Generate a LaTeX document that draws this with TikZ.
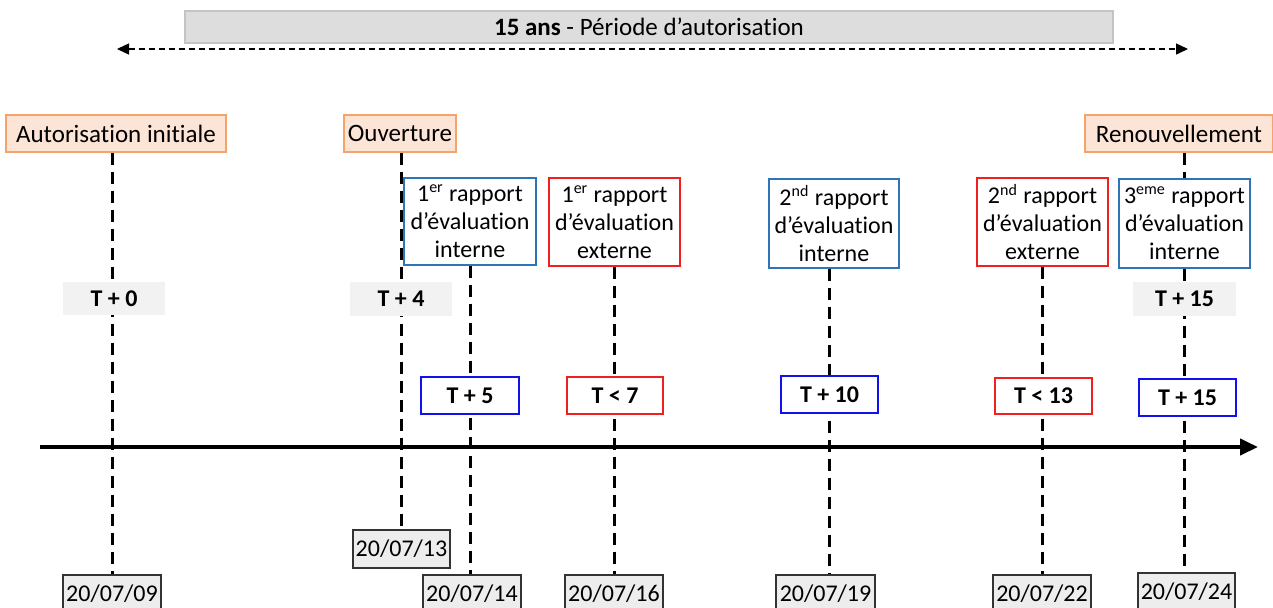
\documentclass[tikz,border=0pt]{standalone}
\usepackage{fontspec}
\setmainfont{Carlito}[Ligatures=NoCommon]
\usetikzlibrary{arrows.meta}
\definecolor{bannerfill}{HTML}{DDDDDD}
\definecolor{bannerdraw}{HTML}{C4C4C4}
\definecolor{orfill}{HTML}{FCE4D6}
\definecolor{ordraw}{HTML}{F4A46A}
\definecolor{intdraw}{HTML}{2E75B6}
\definecolor{extdraw}{HTML}{F02020}
\definecolor{tblue}{HTML}{1010F0}
\definecolor{tgray}{HTML}{F2F2F2}
\definecolor{datefill}{HTML}{EDEDED}
\definecolor{datedraw}{HTML}{333333}
\begin{document}
\begin{tikzpicture}[x=0.5pt,y=-0.5pt,
  every node/.style={inner sep=0pt, font=\fontsize{12}{14}\selectfont, align=center},
  banner/.style={fill=bannerfill, draw=bannerdraw, line width=0.6pt, font=\fontsize{12.5}{14}\selectfont},
  milestone/.style={fill=orfill, draw=ordraw, line width=0.7pt, font=\fontsize{12.5}{14}\selectfont},
  rint/.style={fill=white, draw=intdraw, line width=0.7pt},
  rext/.style={fill=white, draw=extdraw, line width=0.7pt},
  tlabel/.style={fill=tgray, font=\fontsize{12}{14}\selectfont\bfseries},
  tint/.style={fill=white, draw=tblue, line width=0.7pt, font=\fontsize{12}{14}\selectfont\bfseries},
  dateb/.style={fill=datefill, draw=datedraw, line width=0.6pt},
  vline/.style={line width=1.5pt, dash pattern=on 6pt off 3.5pt},
  period/.style={line width=0.7pt, dash pattern=on 3pt off 2pt, {Triangle[length=6pt,width=5.5pt]}-{Triangle[length=6pt,width=5.5pt]}},
  axis/.style={line width=2pt, -{Triangle[length=9pt,width=8pt]}}
]
\useasboundingbox (0,0) rectangle (1273,607);
\clip (0,0) rectangle (1273,607);

% banner and period arrow
\node[banner, minimum width=464pt, minimum height=16pt] (banner) at (649,27) {\textbf{15 ans} - Période d’autorisation};
\coordinate (pL) at (117,49);
\coordinate (pR) at (1188,49);
\draw[period] (pL) -- (pR);

% milestones
\node[milestone, minimum width=110pt, minimum height=18.5pt] (ai) at (116,133.5) {Autorisation initiale};
\node[milestone, minimum width=56pt, minimum height=18.5pt] (ouv) at (400,133.5) {Ouverture};
\node[milestone, minimum width=94pt, minimum height=18.5pt] (ren) at (1179,133.5) {Renouvellement};

% report boxes
\node[rint, minimum width=66pt, minimum height=43.5pt] (r1i) at (470,221.5) {1\textsuperscript{er} rapport\\d’évaluation\\interne};
\node[rext, minimum width=65.5pt, minimum height=44pt] (r1e) at (614.5,222) {1\textsuperscript{er} rapport\\d’évaluation\\externe};
\node[rint, minimum width=65pt, minimum height=44.5pt] (r2i) at (834,223.5) {2\textsuperscript{nd} rapport\\d’évaluation\\interne};
\node[rext, minimum width=65.5pt, minimum height=44pt] (r2e) at (1042.5,222) {2\textsuperscript{nd} rapport\\d’évaluation\\externe};
\node[rint, minimum width=65.5pt, minimum height=44.5pt] (r3i) at (1184.5,223.5) {3\textsuperscript{eme} rapport\\d’évaluation\\interne};

% date boxes
\node[dateb, minimum width=49pt, minimum height=19pt] (d09) at (112,594) {20/07/09};
\node[dateb, minimum width=48.5pt, minimum height=19pt] (d13) at (401.5,549) {20/07/13};
\node[dateb, minimum width=49pt, minimum height=19pt] (d14) at (472,594) {20/07/14};
\node[dateb, minimum width=49pt, minimum height=19pt] (d16) at (614,594) {20/07/16};
\node[dateb, minimum width=49.5pt, minimum height=19pt] (d19) at (825.5,594) {20/07/19};
\node[dateb, minimum width=49pt, minimum height=19pt] (d22) at (1042,594) {20/07/22};
\node[dateb, minimum width=48.5pt, minimum height=19pt] (d24) at (1186.5,592) {20/07/24};

\coordinate (t10c) at (829.5,394.5);

% vertical dashed connectors
\draw[vline] (ai.south -| d09.north) -- (d09.north);
\draw[vline] (d13.north |- ouv.south) -- (d13.north);
\draw[vline] (r1i.south) -- (r1i.south |- d14.north);
\draw[vline] (r1e.south) -- (r1e.south |- d16.north);
\draw[vline] (t10c |- r2i.south) -- (t10c |- d19.north);
\draw[vline] (r2e.south) -- (r2e.south |- d22.north);
\draw[vline] (r3i |- ren.south) -- (r3i.north);
\draw[vline] (r3i.south) -- (r3i.south |- d24.north);

% gray T labels
\node[tlabel, minimum width=51pt, minimum height=16.5pt] (t0) at (114,298.5) {T + 0};
\node[tlabel, minimum width=51pt, minimum height=17pt] (t4) at (401,299) {T + 4};
\node[tlabel, minimum width=51.5pt, minimum height=17pt] (t15g) at (1184.5,299) {T + 15};

% bordered T boxes
\node[tint, minimum width=49pt, minimum height=18.5pt] (t5) at (470,395.5) {T + 5};
\node[tint, draw=extdraw, minimum width=48pt, minimum height=18.5pt] (t7) at (615,395.5) {T < 7};
\node[tint, minimum width=48.5pt, minimum height=18.5pt] (t10) at (t10c) {T + 10};
\node[tint, draw=extdraw, minimum width=48.5pt, minimum height=18pt] (t13) at (1043.5,396) {T < 13};
\node[tint, minimum width=48.5pt, minimum height=18.5pt] (t15) at (1187.5,397.5) {T + 15};

% main time axis
\coordinate (axL) at (40,447);
\coordinate (axR) at (1258,447);
\draw[axis] (axL) -- (axR);
\end{tikzpicture}
\end{document}
